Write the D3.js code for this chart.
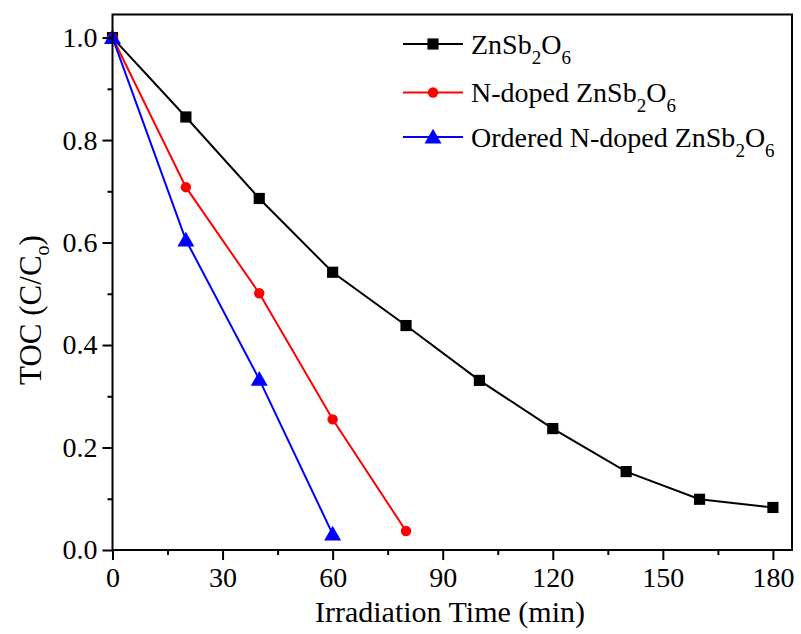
<!DOCTYPE html>
<html>
<head>
<meta charset="utf-8">
<script src="https://cdn.jsdelivr.net/npm/d3@7"></script>
<style>
  html, body { margin: 0; padding: 0; background: #fff; }
  svg { display: block; font-family: "Liberation Serif", "Times New Roman", serif; }
</style>
</head>
<body>
<svg id="chart" width="801" height="634"></svg>
<script>
// Irradiation time (min) for each sample series
const timePure = [0, 20, 40, 60, 80, 100, 120, 140, 160, 180];
const timeNDoped = [0, 20, 40, 60, 80];
const timeOrdered = [0, 20, 40, 60];

// TOC ratio C/C0
const tocPure = [1.0, 0.845, 0.686, 0.542, 0.438, 0.331, 0.237, 0.153, 0.099, 0.083];
const tocNDoped = [1.0, 0.708, 0.501, 0.255, 0.037];
const tocOrdered = [1.0, 0.605, 0.333, 0.031];

const xTicks = [0, 30, 60, 90, 120, 150, 180];
const xMinor = [15, 45, 75, 105, 135, 165];
const yTicks = [0.0, 0.2, 0.4, 0.6, 0.8, 1.0];
const yMinor = [0.1, 0.3, 0.5, 0.7, 0.9];

const seriesNames = ["ZnSb2O6", "N-doped ZnSb2O6", "Ordered N-doped ZnSb2O6"];
const seriesColors = ["#000000", "#ff0000", "#0000ff"];
const seriesShapes = [d3.symbolSquare, d3.symbolCircle, d3.symbolTriangle];
const seriesSizes = [125, 85, 125];

const series = [
  { name: seriesNames[0], x: timePure, y: tocPure },
  { name: seriesNames[1], x: timeNDoped, y: tocNDoped },
  { name: seriesNames[2], x: timeOrdered, y: tocOrdered }
];

const svg = d3.select("#chart");
const plotLeft = 112.5, plotRight = 792, plotTop = 14.5, plotBottom = 550;

const x = d3.scaleLinear().domain([0, 185.2]).range([plotLeft, plotRight]);
const y = d3.scaleLinear().domain([0, 1.045]).range([plotBottom, plotTop]);

// Data lines and markers
const line = d3.line().x(d => x(d[0])).y(d => y(d[1]));
series.forEach((s, i) => {
  const pts = s.x.map((t, k) => [t, s.y[k]]);
  svg.append("path")
    .attr("d", line(pts))
    .attr("fill", "none")
    .attr("stroke", seriesColors[i])
    .attr("stroke-width", 2);
  svg.append("g").selectAll("path")
    .data(pts)
    .join("path")
    .attr("transform", d => `translate(${x(d[0])},${y(d[1]) + (i === 2 ? 1.5 : 0)})`)
    .attr("d", d3.symbol().type(seriesShapes[i]).size(seriesSizes[i]))
    .attr("fill", seriesColors[i]);
});

// Frame
svg.append("rect")
  .attr("x", plotLeft).attr("y", plotTop)
  .attr("width", plotRight - plotLeft).attr("height", plotBottom - plotTop)
  .attr("fill", "none").attr("stroke", "#000").attr("stroke-width", 2);

// Bottom axis
svg.append("g")
  .attr("transform", `translate(0,${plotBottom})`)
  .call(d3.axisBottom(x).tickValues(xTicks).tickSize(10).tickPadding(7).tickFormat(d3.format("d")));
svg.append("g")
  .attr("transform", `translate(0,${plotBottom})`)
  .call(d3.axisBottom(x).tickValues(xMinor).tickSize(5).tickFormat(""));

// Left axis
svg.append("g")
  .attr("transform", `translate(${plotLeft},0)`)
  .call(d3.axisLeft(y).tickValues(yTicks).tickSize(10).tickPadding(5).tickFormat(d3.format(".1f")));
svg.append("g")
  .attr("transform", `translate(${plotLeft},0)`)
  .call(d3.axisLeft(y).tickValues(yMinor).tickSize(5).tickFormat(""));

svg.selectAll(".domain").remove();
svg.selectAll(".tick line").attr("stroke", "#000").attr("stroke-width", 2);
svg.selectAll(".tick text")
  .attr("font-size", 28)
  .attr("font-family", "Liberation Serif, serif")
  .attr("fill", "#000");

// Axis titles
svg.append("text")
  .attr("x", 450)
  .attr("y", 622)
  .attr("text-anchor", "middle")
  .attr("font-size", 30)
  .text("Irradiation Time (min)");

const yTitle = svg.append("text")
  .attr("transform", `translate(41,310) rotate(-90)`)
  .attr("text-anchor", "middle")
  .attr("font-size", 31);
yTitle.append("tspan").text("TOC (C/C");
yTitle.append("tspan").attr("font-size", 20).attr("dy", 8).text("o");
yTitle.append("tspan").attr("dy", -8).text(")");

// Legend
const legendRows = [44, 92.5, 137];
series.forEach((s, i) => {
  const g = svg.append("g").attr("transform", `translate(0,${legendRows[i]})`);
  g.append("line")
    .attr("x1", 403).attr("x2", 463)
    .attr("y1", 0).attr("y2", 0)
    .attr("stroke", seriesColors[i]).attr("stroke-width", 2);
  g.append("path")
    .attr("transform", `translate(433,${i === 2 ? 1.5 : 0})`)
    .attr("d", d3.symbol().type(seriesShapes[i]).size(seriesSizes[i]))
    .attr("fill", seriesColors[i]);
  const t = g.append("text").attr("x", 471).attr("y", 9.5).attr("font-size", 28);
  const prefix = s.name.replace("ZnSb2O6", "");
  t.append("tspan").text(prefix + "ZnSb");
  t.append("tspan").attr("font-size", 19).attr("dy", 10).text("2");
  t.append("tspan").attr("dy", -10).text("O");
  t.append("tspan").attr("font-size", 19).attr("dy", 10).text("6");
});
</script>
</body>
</html>
